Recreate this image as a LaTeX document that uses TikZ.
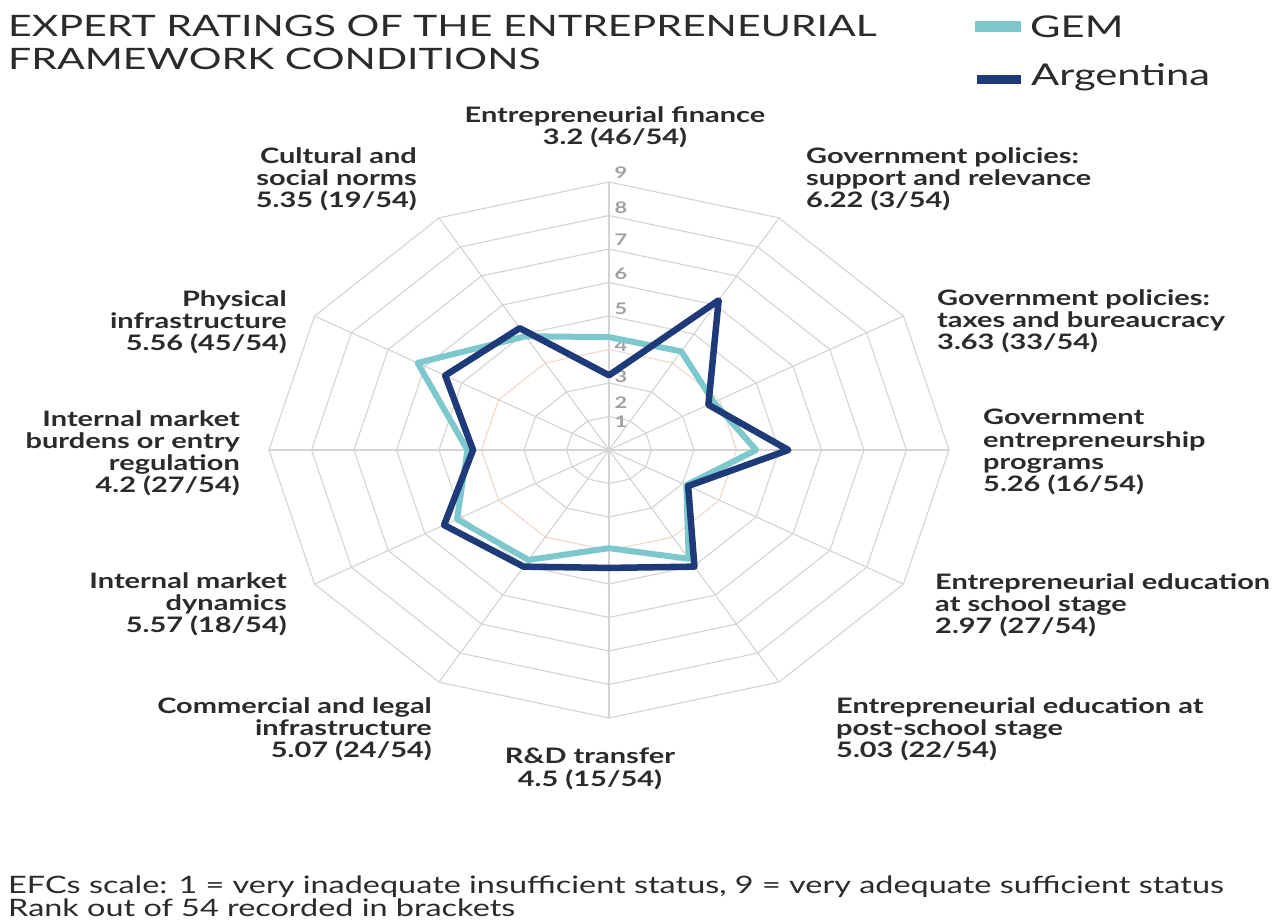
\documentclass[tikz,border=0pt]{standalone}
\usepackage{fontspec}
\setmainfont{Lato}[FakeStretch=1.36]
\newfontfamily\titlefont{Lato}[FakeStretch=1.39]
\newfontfamily\notefont{Lato}[FakeStretch=1.35]
\definecolor{gemc}{HTML}{7CC8CC}
\definecolor{argc}{HTML}{1F3A78}
\definecolor{gridc}{HTML}{D4D4D4}
\definecolor{ringfour}{HTML}{F2D8CC}
\definecolor{txtc}{HTML}{2B2B2B}
\definecolor{scalec}{HTML}{A0A0A0}
\tikzset{
  gridline/.style={draw=gridc, line width=1.1pt},
  gemline/.style={draw=gemc, line width=6pt, line join=round},
  argline/.style={draw=argc, line width=6.5pt, line join=round},
  lbl/.style={inner sep=0pt, text=txtc, font=\bfseries\fontsize{21.3}{22.3}\selectfont},
  scalelbl/.style={inner sep=0pt, text=scalec, font=\bfseries\fontsize{16}{16}\selectfont},
  ttl/.style={inner sep=0pt, text=txtc, anchor=base west, font=\titlefont\fontsize{29.5}{30}\selectfont},
  leg/.style={inner sep=0pt, text=txtc, anchor=base west, font=\titlefont\fontsize{30}{32}\selectfont},
  note/.style={inner sep=0pt, text=txtc, anchor=base west, font=\notefont\fontsize{24}{26}\selectfont}
}
\begin{document}
\begin{tikzpicture}[x=1pt,y=-1pt]
\useasboundingbox (0,0) rectangle (1283,924);
\fill[white] (0,0) rectangle (1283,924);
\def\cx{609}\def\cy{450}\def\ux{42.5}\def\uy{33.5}
% rings
\foreach \r in {2,3,5,6,7,8,9}{
  \draw[gridline] ({\cx},{\cy-(\r-1)*\uy}) \foreach \k in {1,...,11}{ -- ({\cx+(\r-1)*\ux*sin(30*\k)},{\cy-(\r-1)*\uy*cos(30*\k)}) } -- cycle;
}
\draw[gridline, draw=ringfour] ({\cx},{\cy-3*\uy}) \foreach \k in {1,...,11}{ -- ({\cx+3*\ux*sin(30*\k)},{\cy-3*\uy*cos(30*\k)}) } -- cycle;
% spokes
\coordinate (ctr) at (\cx,\cy);
\foreach \k in {0,...,11}{
  \coordinate (sp\k) at ({\cx+8*\ux*sin(30*\k)},{\cy-8*\uy*cos(30*\k)});
  \draw[gridline] (ctr) -- (sp\k);
}
% scale labels
\foreach \v/\yy in {9/173,8/208,7/240,6/274,5/309,4/346,3/377,2/403,1/422}{
  \node[scalelbl] (sc\v) at (621,\yy) {\v};
}
% data
\foreach \v [count=\i from 0] in {4.37,4.4,3.85,4.46,3.1,4.75,3.93,4.79,5.13,4.33,6.2,4.92}{
  \coordinate (g\i) at ({\cx+(\v-1)*\ux*sin(30*\i)},{\cy-(\v-1)*\uy*cos(30*\i)});
}
\foreach \v [count=\i from 0] in {3.23,6.16,3.7,5.22,3.15,5.02,4.52,5.02,5.48,4.2,5.45,5.2}{
  \coordinate (a\i) at ({\cx+(\v-1)*\ux*sin(30*\i)},{\cy-(\v-1)*\uy*cos(30*\i)});
}
\draw[gemline] (g0) -- (g1) -- (g2) -- (g3) -- (g4) -- (g5) -- (g6) -- (g7) -- (g8) -- (g9) -- (g10) -- (g11) -- cycle;
\draw[argline] (a0) -- (a1) -- (a2) -- (a3) -- (a4) -- (a5) -- (a6) -- (a7) -- (a8) -- (a9) -- (a10) -- (a11) -- cycle;
% axis labels
\node[lbl, anchor=north, align=center] (l0) at (615,106) {Entrepreneurial finance\\3.2 (46/54)};
\node[lbl, anchor=north west, align=left] (l1) at (806,147) {Government policies:\\support and relevance\\6.22 (3/54)};
\node[lbl, anchor=north west, align=left] (l2) at (937,289) {Government policies:\\taxes and bureaucracy\\3.63 (33/54)};
\node[lbl, anchor=north west, align=left] (l3) at (983,409) {Government\\entrepreneurship\\programs\\5.26 (16/54)};
\node[lbl, anchor=north west, align=left] (l4) at (935,573) {Entrepreneurial education\\at school stage\\2.97 (27/54)};
\node[lbl, anchor=north west, align=left] (l5) at (836,697) {Entrepreneurial education at\\post-school stage\\5.03 (22/54)};
\node[lbl, anchor=north, align=center] (l6) at (590,748) {R\&D transfer\\4.5 (15/54)};
\node[lbl, anchor=north east, align=right] (l7) at (432,697) {Commercial and legal\\infrastructure\\5.07 (24/54)};
\node[lbl, anchor=north east, align=right] (l8) at (287,572) {Internal market\\dynamics\\5.57 (18/54)};
\node[lbl, anchor=north east, align=right] (l9) at (240,410) {Internal market\\burdens or entry\\regulation\\4.2 (27/54)};
\node[lbl, anchor=north east, align=right] (l10) at (287,290) {Physical\\infrastructure\\5.56 (45/54)};
\node[lbl, anchor=north east, align=right] (l11) at (417,147) {Cultural and\\social norms\\5.35 (19/54)};
% title
\node[ttl] (t1) at (8,36) {EXPERT RATINGS OF THE ENTREPRENEURIAL};
\node[ttl] (t2) at (8,69) {FRAMEWORK CONDITIONS};
% legend
\fill[gemc] (975,21) rectangle (1021,32);
\fill[argc] (977,75) rectangle (1021,84);
\node[leg] (lg1) at (1030,37) {GEM};
\node[leg] (lg2) at (1031,85) {Argentina};
% note
\node[note] (n1) at (8,893) {EFCs scale: 1 = very inadequate insufficient status, 9 = very adequate sufficient status};
\node[note] (n2) at (8,916) {Rank out of 54 recorded in brackets};
\end{tikzpicture}
\end{document}
